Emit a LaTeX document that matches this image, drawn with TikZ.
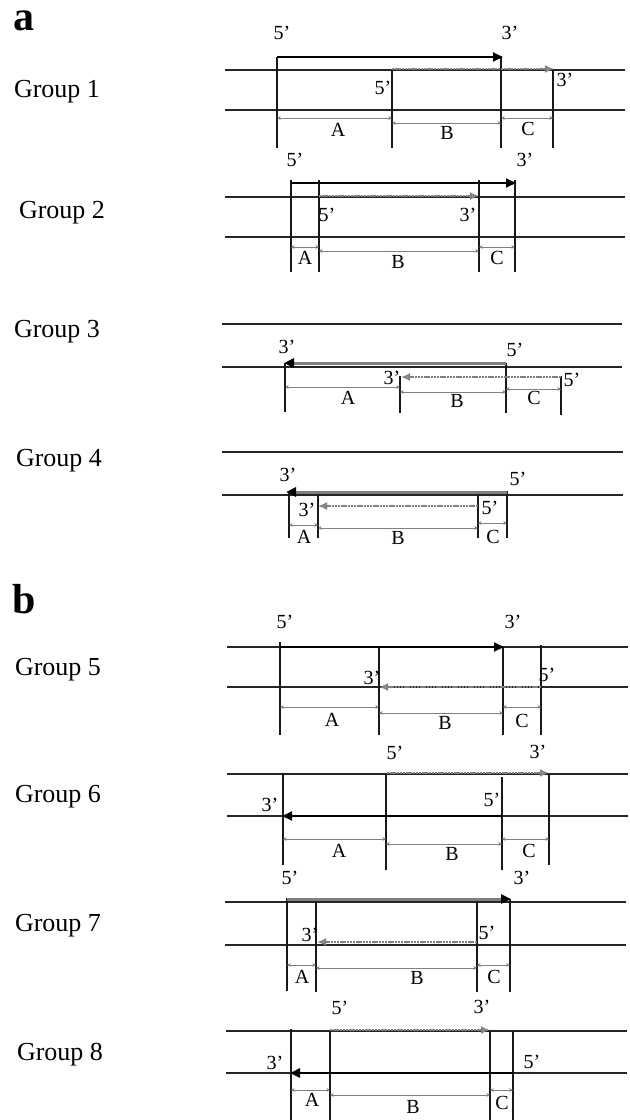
\documentclass[tikz,border=0pt]{standalone}
\usepackage{fontspec}
\setmainfont{Liberation Serif}
\usetikzlibrary{arrows.meta}
\tikzset{
  strand/.style={line width=0.6pt, black!85},
  vline/.style={line width=0.6pt, black!90},
  fwd/.style={line width=0.9pt, black, -{Triangle[length=5pt,width=4.5pt]}},
  fwdg/.style={line width=1.5pt, black!50, -{Triangle[length=5pt,width=4.5pt,color=black]}},
  fwdk/.style={line width=1.4pt, black, -{Triangle[length=5pt,width=4.5pt]}},
  prim/.style={line width=1.2pt, black!50, dash pattern=on 1.2pt off 0.4pt, -{Latex[length=4.5pt,width=4pt,open,fill=black!20]}},
  dim/.style={line width=0.3pt, black!50, {Stealth[length=1.8pt,width=1.8pt]}-{Stealth[length=1.8pt,width=1.8pt]}},
  lab/.style={inner sep=0pt, font=\fontsize{10}{12}\selectfont},
  grp/.style={inner sep=0pt, font=\fontsize{13}{15}\selectfont},
  panel/.style={inner sep=0pt, anchor=base, font=\fontsize{21}{24}\selectfont\bfseries}
}
\begin{document}
\begin{tikzpicture}[x=0.5pt,y=-0.5pt]
\useasboundingbox (0,0) rectangle (630,1120);
% ---------- panel a ----------
\node[panel] (pa) at (24,30) {a};
% Group 1
\node[grp] (g1) at (57,92) {Group 1};
\draw[strand] (225,70) -- (625,70);
\draw[strand] (225,110) -- (625,110);
\draw[vline] (277,57) -- (277,148);
\draw[vline] (392,70) -- (392,148);
\draw[vline] (501,57) -- (501,148);
\draw[vline] (553,70) -- (553,148);
\draw[fwd] (277,57) -- (503,57);
\draw[prim] (392,69) -- (554,69);
\node[lab] (g1a) at (282,33) {5’};
\node[lab] (g1b) at (510,33) {3’};
\node[lab] (g1c) at (383,88) {5’};
\node[lab] (g1d) at (565,80) {3’};
\draw[dim] (277,118) -- (392,118);
\draw[dim] (392,123) -- (501,123);
\draw[dim] (501,118) -- (553,118);
\node[lab] (g1A) at (338,130) {A};
\node[lab] (g1B) at (447,133) {B};
\node[lab] (g1C) at (528,129) {C};
% Group 2
\node[grp] (g2) at (62,213) {Group 2};
\draw[strand] (225,197) -- (625,197);
\draw[strand] (225,237) -- (625,237);
\draw[vline] (291,180) -- (291,272);
\draw[vline] (319,180) -- (319,272);
\draw[vline] (479,180) -- (479,272);
\draw[vline] (515,180) -- (515,272);
\draw[fwd] (291,183) -- (516,183);
\draw[prim] (319,196) -- (479,196);
\node[lab] (g2a) at (295,160) {5’};
\node[lab] (g2b) at (525,160) {3’};
\node[lab] (g2c) at (327,215) {5’};
\node[lab] (g2d) at (468,215) {3’};
\draw[dim] (291,247) -- (319,247);
\draw[dim] (319,251) -- (479,251);
\draw[dim] (479,247) -- (515,247);
\node[lab] (g2A) at (305,258) {A};
\node[lab] (g2B) at (398,262) {B};
\node[lab] (g2C) at (497,258) {C};
% Group 3
\node[grp] (g3) at (57,332) {Group 3};
\draw[strand] (222,324) -- (622,324);
\draw[strand] (222,367) -- (622,367);
\draw[vline] (285,363) -- (285,412);
\draw[vline] (400,376) -- (400,413);
\draw[vline] (506,363) -- (506,413);
\draw[vline] (561,376) -- (561,415);
\draw[fwdg] (506,363) -- (284,363);
\draw[prim] (561,377) -- (401,377);
\node[lab] (g3a) at (287,347) {3’};
\node[lab] (g3b) at (515,350) {5’};
\node[lab] (g3c) at (392,378) {3’};
\node[lab] (g3d) at (572,380) {5’};
\draw[dim] (285,387) -- (400,387);
\draw[dim] (400,392) -- (506,392);
\draw[dim] (506,389) -- (561,389);
\node[lab] (g3A) at (348,398) {A};
\node[lab] (g3B) at (457,401) {B};
\node[lab] (g3C) at (534,398) {C};
% Group 4
\node[grp] (g4) at (59,461) {Group 4};
\draw[strand] (222,452) -- (623,452);
\draw[strand] (222,495) -- (623,495);
\draw[vline] (289,492) -- (289,538);
\draw[vline] (318,492) -- (318,538);
\draw[vline] (478,492) -- (478,538);
\draw[vline] (507,491) -- (507,538);
\draw[fwdg] (507,492) -- (286,492);
\draw[prim] (478,506) -- (318,506);
\node[lab] (g4a) at (288,475) {3’};
\node[lab] (g4b) at (518,479) {5’};
\node[lab] (g4c) at (307,510) {3’};
\node[lab] (g4d) at (490,508) {5’};
\draw[dim] (289,525) -- (318,525);
\draw[dim] (318,528) -- (478,528);
\draw[dim] (478,523) -- (507,523);
\node[lab] (g4A) at (304,537) {A};
\node[lab] (g4B) at (398,538) {B};
\node[lab] (g4C) at (493,537) {C};
% ---------- panel b ----------
\node[panel] (pb) at (24,613) {b};
% Group 5
\node[grp] (g5) at (58,670) {Group 5};
\draw[strand] (227,647) -- (628,647);
\draw[strand] (227,687) -- (628,687);
\draw[vline] (280,642) -- (280,735);
\draw[vline] (379,647) -- (379,735);
\draw[vline] (503,647) -- (503,735);
\draw[vline] (541,645) -- (541,735);
\draw[fwd] (280,647) -- (504,647);
\draw[prim] (541,687) -- (379,687);
\node[lab] (g5a) at (285,622) {5’};
\node[lab] (g5b) at (513,622) {3’};
\node[lab] (g5c) at (372,678) {3’};
\node[lab] (g5d) at (547,675) {5’};
\draw[dim] (280,707) -- (379,707);
\draw[dim] (379,713) -- (503,713);
\draw[dim] (503,707) -- (541,707);
\node[lab] (g5A) at (332,720) {A};
\node[lab] (g5B) at (445,723) {B};
\node[lab] (g5C) at (522,721) {C};
% Group 6
\node[grp] (g6) at (58,797) {Group 6};
\draw[strand] (227,774) -- (628,774);
\draw[strand] (227,816) -- (628,816);
\draw[vline] (283,773) -- (283,865);
\draw[vline] (386,774) -- (386,870);
\draw[vline] (502,777) -- (502,870);
\draw[vline] (549,774) -- (549,865);
\draw[prim] (387,773) -- (549,773);
\draw[fwd] (502,816) -- (282,816);
\node[lab] (g6a) at (395,753) {5’};
\node[lab] (g6b) at (538,752) {3’};
\node[lab] (g6c) at (270,805) {3’};
\node[lab] (g6d) at (492,800) {5’};
\draw[dim] (283,839) -- (386,839);
\draw[dim] (386,844) -- (502,844);
\draw[dim] (502,839) -- (549,839);
\node[lab] (g6A) at (339,851) {A};
\node[lab] (g6B) at (452,854) {B};
\node[lab] (g6C) at (529,851) {C};
% Group 7
\node[grp] (g7) at (58,926) {Group 7};
\draw[strand] (225,902) -- (626,902);
\draw[strand] (225,945) -- (626,945);
\draw[vline] (287,898) -- (287,991);
\draw[vline] (316,898) -- (316,992);
\draw[vline] (477,898) -- (477,992);
\draw[vline] (510,899) -- (510,992);
\draw[fwdg] (287,899) -- (511,899);
\draw[prim] (477,942) -- (317,942);
\node[lab] (g7a) at (290,878) {5’};
\node[lab] (g7b) at (522,878) {3’};
\node[lab] (g7c) at (310,935) {3’};
\node[lab] (g7d) at (487,933) {5’};
\draw[dim] (287,965) -- (316,965);
\draw[dim] (316,968) -- (477,968);
\draw[dim] (477,965) -- (510,965);
\node[lab] (g7A) at (302,977) {A};
\node[lab] (g7B) at (417,978) {B};
\node[lab] (g7C) at (494,977) {C};
% Group 8
\node[grp] (g8) at (60,1055) {Group 8};
\draw[strand] (226,1031) -- (627,1031);
\draw[strand] (226,1073) -- (627,1073);
\draw[vline] (291,1029) -- (291,1120);
\draw[vline] (330,1031) -- (330,1120);
\draw[vline] (490,1031) -- (490,1120);
\draw[vline] (513,1031) -- (513,1120);
\draw[prim] (330,1030) -- (490,1030);
\draw[fwdk] (513,1073) -- (290,1073);
\node[lab] (g8a) at (340,1008) {5’};
\node[lab] (g8b) at (482,1007) {3’};
\node[lab] (g8c) at (275,1063) {3’};
\node[lab] (g8d) at (532,1062) {5’};
\draw[dim] (291,1090) -- (330,1090);
\draw[dim] (330,1095) -- (490,1095);
\draw[dim] (490,1090) -- (513,1090);
\node[lab] (g8A) at (312,1100) {A};
\node[lab] (g8B) at (413,1107) {B};
\node[lab] (g8C) at (502,1103) {C};
\end{tikzpicture}
\end{document}
